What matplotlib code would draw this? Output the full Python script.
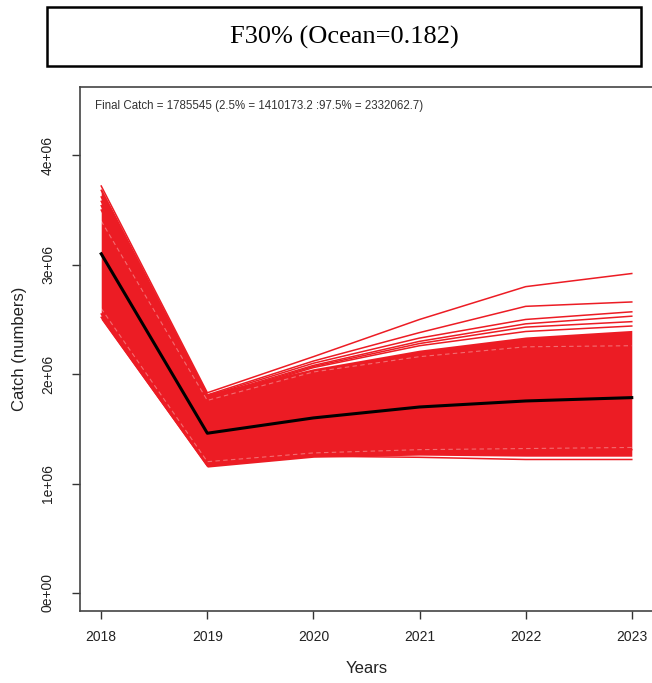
import matplotlib.pyplot as plt
from matplotlib.patches import Rectangle

# values
years = [2018, 2019, 2020, 2021, 2022, 2023]
median_catch = [3.10e6, 1.46e6, 1.60e6, 1.70e6, 1.755e6, 1.785545e6]
band_low = [2.50e6, 1.15e6, 1.24e6, 1.26e6, 1.25e6, 1.25e6]
band_high = [3.70e6, 1.82e6, 2.05e6, 2.22e6, 2.34e6, 2.40e6]

# individual trajectories that stick out of the main band
upper_runs = [
    [3.72e6, 1.83e6, 2.16e6, 2.50e6, 2.80e6, 2.92e6],
    [3.68e6, 1.81e6, 2.12e6, 2.38e6, 2.62e6, 2.66e6],
    [3.62e6, 1.80e6, 2.10e6, 2.33e6, 2.50e6, 2.57e6],
    [3.58e6, 1.79e6, 2.08e6, 2.30e6, 2.46e6, 2.53e6],
    [3.54e6, 1.78e6, 2.07e6, 2.28e6, 2.43e6, 2.48e6],
    [3.50e6, 1.77e6, 2.06e6, 2.26e6, 2.39e6, 2.44e6],
]
lower_runs = [
    [2.52e6, 1.16e6, 1.25e6, 1.24e6, 1.22e6, 1.22e6],
    [2.55e6, 1.18e6, 1.27e6, 1.29e6, 1.30e6, 1.31e6],
]
# thin gaps between the many red lines
gap_runs = [
    [3.40e6, 1.76e6, 2.02e6, 2.16e6, 2.25e6, 2.26e6],
    [2.60e6, 1.20e6, 1.28e6, 1.31e6, 1.32e6, 1.33e6],
]

final_text = "Final Catch = 1785545 (2.5% = 1410173.2 :97.5% = 2332062.7)"
title_text = "F30% (Ocean=0.182)"

red = "#ec1c24"
W, H = 652, 683

plt.rcParams["font.family"] = ["Liberation Sans", "DejaVu Sans"]

fig = plt.figure(figsize=(W / 100, H / 100), dpi=100)
ax = fig.add_axes([80 / W, (H - 611) / H, (653 - 80) / W, (611 - 87) / H])

ax.fill_between(years, band_low, band_high, color=red, lw=0)
for run in upper_runs + lower_runs:
    ax.plot(years, run, color=red, lw=1.1)
for run in gap_runs:
    ax.plot(years, run, color="white", lw=0.8, alpha=0.35, ls=(0, (4, 3)))
ax.plot(years, median_catch, color="black", lw=2.2)

ax.set_xlim(2017.8, 2023.2)
ax.set_ylim(-0.165e6, 4.625e6)
ax.set_xticks(years)
ax.set_yticks([0, 1e6, 2e6, 3e6, 4e6])
ax.set_yticklabels(["0e+00", "1e+06", "2e+06", "3e+06", "4e+06"],
                   rotation=90, va="center")
ax.tick_params(direction="out", length=6, width=1, colors="#333333",
               labelsize=10, labelcolor="#222222", pad=8)
ax.tick_params(axis="y", pad=12)
for sp in ax.spines.values():
    sp.set_color("#444444")
    sp.set_linewidth(1.2)

ax.set_xlabel("Years", fontsize=12, color="#222222", labelpad=12)
ax.set_ylabel("Catch (numbers)", fontsize=12, color="#222222", labelpad=10)

ax.text(0.027, 0.975, final_text, transform=ax.transAxes, fontsize=8.3,
        color="#333333", va="top", ha="left")

# boxed title on top
fig.patches.append(Rectangle((47 / W, 1 - 66 / H), (641 - 47) / W, (66 - 7) / H,
                             transform=fig.transFigure, fill=False,
                             edgecolor="black", lw=1.8))
fig.text(344 / W, 1 - 37 / H, title_text, ha="center", va="center",
         fontsize=19, family=["Liberation Serif", "DejaVu Serif"])

fig.savefig("out.png", dpi=100)
